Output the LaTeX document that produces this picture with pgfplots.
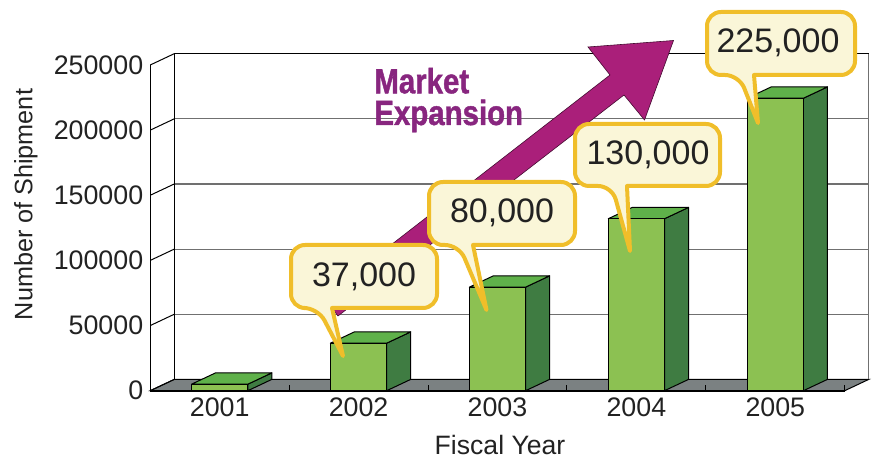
\documentclass[border=0pt]{standalone}
\usepackage{fontspec}
\setmainfont{Liberation Sans}
\newfontfamily\mkfont[FakeStretch=0.84,FakeBold=1.2]{Liberation Sans Bold}
\usepackage{pgfplots}
\pgfplotsset{compat=1.18}
\usepackage{pgfplotstable}

\definecolor{barfront}{HTML}{8CC152}
\definecolor{bartop}{HTML}{5FB14A}
\definecolor{barside}{HTML}{3F7C42}
\definecolor{floorgray}{HTML}{7B8182}
\definecolor{gridgray}{HTML}{707070}
\definecolor{bubbleedge}{HTML}{F0BE2A}
\definecolor{bubblefill}{HTML}{FAF6D8}
\definecolor{arrowmag}{HTML}{AA1F7A}
\definecolor{textpurple}{HTML}{88267F}
\definecolor{textdark}{HTML}{222222}

\pgfplotstableread{
x v
1 5000
2 36500
3 79500
4 132000
5 224500
}\shipdata

\def\dxu{0.1728}
\def\dyu{8674}
\def\hw{0.2025}

\newcommand\barfaces[2]{%
  \pgfmathsetmacro\xl{#1-\hw}%
  \pgfmathsetmacro\xr{#1+\hw}%
  \pgfmathsetmacro\xlb{#1-\hw+\dxu}%
  \pgfmathsetmacro\xrb{#1+\hw+\dxu}%
  \edef\vt{\the\numexpr#2+\dyu\relax}%
  \addplot[fill=barside, draw=black, line width=0.5pt, line join=round] coordinates {(\xr,0) (\xrb,\dyu) (\xrb,\vt) (\xr,#2)} -- cycle;
  \addplot[fill=bartop, draw=black, line width=0.5pt, line join=round] coordinates {(\xl,#2) (\xr,#2) (\xrb,\vt) (\xlb,\vt)} -- cycle;
}

\tikzset{bubble/.style={draw=bubbleedge, fill=bubblefill, line width=2pt, line join=round}}

\begin{document}
\begin{tikzpicture}
\begin{axis}[
  name=ax,
  scale only axis,
  width=359.25pt, height=168.5pt,
  xmin=0.5, xmax=5.6728,
  ymin=0, ymax=258674,
  clip=false,
  axis line style={draw=none},
  major tick length=0pt, minor tick length=0pt,
  xtick={1,2,3,4,5},
  xticklabels={2001,2002,2003,2004,2005},
  ytick={0,50000,100000,150000,200000,250000},
  yticklabels={0,50000,100000,150000,200000,250000},
  scaled y ticks=false,
  ticklabel style={font=\fontsize{13.4}{16}\selectfont, text=textdark},
]
% floor
\addplot[fill=floorgray, draw=black, line width=0.5pt] coordinates {(0.5,0) (5.5,0) (5.6728,8674) (0.6728,8674)} -- cycle;
\addplot[black, line width=1pt] coordinates {(0.5,0) (5.5,0)};
% back wall grid lines
\pgfplotsinvokeforeach{50000,100000,150000,200000}{
  \edef\gy{\the\numexpr#1+\dyu\relax}
  \addplot[gridgray, line width=0.6pt] coordinates {(0.6728,\gy) (5.6728,\gy)};
}
\addplot[black, line width=0.6pt] coordinates {(0.6728,258674) (5.6728,258674)};
% left wall slanted ticks
\pgfplotsinvokeforeach{0,50000,100000,150000,200000,250000}{
  \edef\gy{\the\numexpr#1+\dyu\relax}
  \addplot[black, line width=0.5pt] coordinates {(0.5,#1) (0.6728,\gy)};
}
\addplot[black, line width=0.6pt] coordinates {(0.5,0) (0.5,250000)};
\addplot[black, line width=0.6pt] coordinates {(0.6728,8674) (0.6728,258674)};
\addplot[gridgray, line width=0.6pt] coordinates {(5.6728,8674) (5.6728,258674)};
% floor ticks
\pgfplotsinvokeforeach{1.5,2.5,3.5,4.5,5.5}{
  \addplot[black, line width=0.5pt] coordinates {(#1,0) (#1,4200)};
}
% bars: side and top faces
\pgfplotsinvokeforeach{0,...,4}{
  \pgfplotstablegetelem{#1}{x}\of\shipdata \let\cx\pgfplotsretval
  \pgfplotstablegetelem{#1}{v}\of\shipdata \let\cv\pgfplotsretval
  \barfaces{\cx}{\cv}
}
% bars: front faces
\addplot[ybar, bar width=0.405, fill=barfront, draw=black, line width=0.5pt] table[x=x, y=v] {\shipdata};
\end{axis}

\begin{scope}[shift={(ax.south west)}]
\begin{scope}[xshift=-75.125pt, yshift=195.35pt, x=0.5pt, y=-0.5pt]
% arrow
\filldraw[fill=arrowmag, draw=black!60!arrowmag, line width=0.3pt, line join=miter]
  (323.5,297.3) -- (610,75) -- (588,47) -- (673.5,40.5) -- (644.5,120) -- (624,95) -- (338,316) -- cycle;
% Market Expansion
\node[anchor=base west, inner sep=0pt, text=textpurple, font=\mkfont\fontsize{17.5}{20}\selectfont] at (374,93.3) {Market};
\node[anchor=base west, inner sep=0pt, text=textpurple, font=\mkfont\fontsize{17.5}{20}\selectfont] at (374,125) {Expansion};
% bubbles
\path[bubble] (318,308) -- (343,356) -- (332,308) [rounded corners=7pt] -- (437,308) -- (437,245) -- (291,245) -- (291,308) -- cycle;
\node[anchor=base, inner sep=0pt, text=textdark, font=\fontsize{17}{20}\selectfont] at (364,287) {37,000};
\path[bubble] (459,245) -- (486.5,310) -- (473,245) [rounded corners=7pt] -- (575,245) -- (575,182) -- (429,182) -- (429,245) -- cycle;
\node[anchor=base, inner sep=0pt, text=textdark, font=\fontsize{17}{20}\selectfont] at (502,222.7) {80,000};
\path[bubble] (612,186) -- (630,251) -- (627,186) [rounded corners=7pt] -- (720,186) -- (720,124) -- (575,124) -- (575,186) -- cycle;
\node[anchor=base, inner sep=0pt, text=textdark, font=\fontsize{17}{20}\selectfont] at (648,165) {130,000};
\path[bubble] (739,75) -- (758,123) -- (754,75) [rounded corners=7pt] -- (855,75) -- (855,12) -- (707,12) -- (707,75) -- cycle;
\node[anchor=base, inner sep=0pt, text=textdark, font=\fontsize{17}{20}\selectfont] at (778,53) {225,000};
% axis titles
\node[rotate=90, anchor=base, inner sep=0pt, text=textdark, font=\fontsize{12.6}{15}\selectfont] at (32.5,204.5) {Number of Shipment};
\node[anchor=base, inner sep=0pt, text=textdark, font=\fontsize{13.3}{16}\selectfont] at (500,455) {Fiscal Year};
% page frame
\pgfresetboundingbox
\path[use as bounding box] (0,0) rectangle (872,459);
\end{scope}
\end{scope}
\end{tikzpicture}
\end{document}
